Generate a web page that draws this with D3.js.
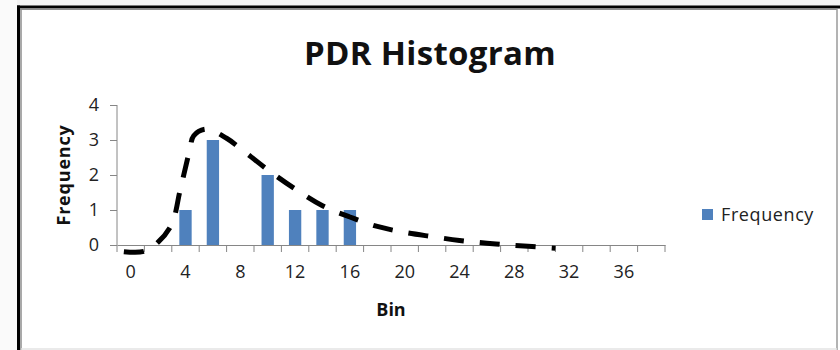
<!DOCTYPE html>
<html>
<head>
<meta charset="utf-8">
<script src="https://cdn.jsdelivr.net/npm/d3@7"></script>
<style>
  body { margin: 0; background: #fff; }
  svg { display: block; font-family: "Open Sans", "Liberation Sans", sans-serif; }
</style>
</head>
<body>
<div id="chart"></div>
<script>
// histogram bins (category axis) and counts
const bins = [0, 2, 4, 6, 8, 10, 12, 14, 16, 18, 20, 22, 24, 26, 28, 30, 32, 34, 36, 38];
const frequency = [0, 0, 1, 3, 0, 2, 1, 1, 1, 0, 0, 0, 0, 0, 0, 0, 0, 0, 0, 0];
const binLabels = [0, 4, 8, 12, 16, 20, 24, 28, 32, 36];
const yTicks = [0, 1, 2, 3, 4];

// fitted curve (dashed)
const curveBin = [-0.5, 1, 2, 3, 3.6, 4.3, 4.6, 5.5, 7, 8, 10, 12, 14, 16, 18, 20, 22, 24, 26, 28, 31];
const curveValue = [-0.19, -0.18, 0.08, 0.6, 1.55, 2.7, 3.12, 3.31, 3.05, 2.76, 2.15, 1.6, 1.12, 0.8, 0.53, 0.36, 0.24, 0.13, 0.05, -0.01, -0.09];

const width = 840, height = 350;
const svg = d3.select('#chart').append('svg')
  .attr('width', width)
  .attr('height', height);

// light backdrop outside the chart frame
svg.append('rect').attr('width', width).attr('height', 6).attr('fill', '#f3f3f3');
svg.append('rect').attr('width', 17).attr('height', height).attr('fill', '#fafafa');

// frame
svg.append('line').attr('x1', 18.5).attr('x2', 18.5).attr('y1', 5.5).attr('y2', 350)
  .attr('stroke', '#000').attr('stroke-width', 3);
svg.append('line').attr('x1', 17).attr('x2', 840).attr('y1', 7).attr('y2', 7)
  .attr('stroke', '#000').attr('stroke-width', 3);
svg.append('line').attr('x1', 21).attr('x2', 21).attr('y1', 8.5).attr('y2', 350)
  .attr('stroke', '#8c8c8c').attr('stroke-width', 1.5);
svg.append('line').attr('x1', 20).attr('x2', 837).attr('y1', 9.3).attr('y2', 9.3)
  .attr('stroke', '#8c8c8c').attr('stroke-width', 1.5);
svg.append('line').attr('x1', 837).attr('x2', 837).attr('y1', 9).attr('y2', 350)
  .attr('stroke', '#9a9a9a').attr('stroke-width', 1.5);
svg.append('line').attr('x1', 21).attr('x2', 837).attr('y1', 349).attr('y2', 349)
  .attr('stroke', '#e3e3e3').attr('stroke-width', 1.5);

const plot = { left: 117, right: 665, top: 105, bottom: 245 };

const x = d3.scaleBand()
  .domain(bins)
  .range([plot.left, plot.right]);
const bw = x.bandwidth();
const xLin = d3.scaleLinear()
  .domain([bins[0], bins[bins.length - 1]])
  .range([x(bins[0]) + bw / 2, x(bins[bins.length - 1]) + bw / 2]);
const y = d3.scaleLinear()
  .domain([0, 4])
  .range([plot.bottom, plot.top]);

const axisColor = '#868686';

// y axis
const yAxis = svg.append('g')
  .attr('transform', `translate(${plot.left},0)`)
  .call(d3.axisLeft(y).tickValues(yTicks).tickSize(7).tickPadding(11).tickFormat(d3.format('d')));
yAxis.selectAll('path, line').attr('stroke', axisColor);
yAxis.select('.domain').attr('d', `M0,${plot.top}V${plot.bottom}`);
yAxis.selectAll('text').attr('font-size', 18).attr('fill', '#222')
  .attr('font-family', '"Open Sans", sans-serif');

// x axis: labels at category centres, ticks at category boundaries
const xAxis = svg.append('g')
  .attr('transform', `translate(0,${plot.bottom})`)
  .call(d3.axisBottom(x).tickValues(binLabels).tickSize(0).tickPadding(20));
xAxis.select('.domain').attr('stroke', axisColor);
xAxis.selectAll('text').attr('font-size', 18).attr('fill', '#222')
  .attr('font-family', '"Open Sans", sans-serif');
const boundaries = bins.map(b => x(b)).concat([x(bins[bins.length - 1]) + bw]);
xAxis.selectAll('line.bound')
  .data(boundaries)
  .join('line')
  .attr('class', 'bound')
  .attr('x1', d => d).attr('x2', d => d)
  .attr('y1', 0).attr('y2', 7)
  .attr('stroke', axisColor);

// bars
const barW = bw * 0.45;
svg.append('g').selectAll('rect')
  .data(bins.map((b, i) => ({ bin: b, value: frequency[i] })).filter(d => d.value > 0))
  .join('rect')
  .attr('x', d => x(d.bin) + (bw - barW) / 2)
  .attr('y', d => y(d.value))
  .attr('width', barW)
  .attr('height', d => y(0) - y(d.value))
  .attr('fill', '#4f81bd');

// dashed fitted curve
const line = d3.line()
  .x(d => xLin(d[0]))
  .y(d => y(d[1]))
  .curve(d3.curveCatmullRom.alpha(0.5));
svg.append('path')
  .datum(curveBin.map((b, i) => [b, curveValue[i]]))
  .attr('d', line)
  .attr('fill', 'none')
  .attr('stroke', '#000')
  .attr('stroke-width', 5)
  .attr('stroke-dasharray', '20,16');

// titles
svg.append('text')
  .attr('x', 430).attr('y', 65)
  .attr('text-anchor', 'middle')
  .attr('font-size', 33).attr('font-weight', 'bold')
  .attr('letter-spacing', 0.3)
  .attr('fill', '#111')
  .text('PDR Histogram');

svg.append('text')
  .attr('x', 391).attr('y', 316)
  .attr('text-anchor', 'middle')
  .attr('font-size', 18).attr('font-weight', 'bold')
  .attr('fill', '#111')
  .text('Bin');

svg.append('text')
  .attr('transform', `translate(70,${(plot.top + plot.bottom) / 2}) rotate(-90)`)
  .attr('text-anchor', 'middle')
  .attr('font-size', 18).attr('font-weight', 'bold')
  .attr('letter-spacing', 0.8)
  .attr('fill', '#111')
  .text('Frequency');

// legend
const legend = svg.append('g').attr('transform', 'translate(702,209)');
legend.append('rect').attr('width', 11).attr('height', 11).attr('fill', '#4f81bd');
legend.append('text')
  .attr('x', 19).attr('y', 12)
  .attr('font-size', 18).attr('letter-spacing', 0.6).attr('fill', '#222')
  .text('Frequency');
</script>
</body>
</html>
